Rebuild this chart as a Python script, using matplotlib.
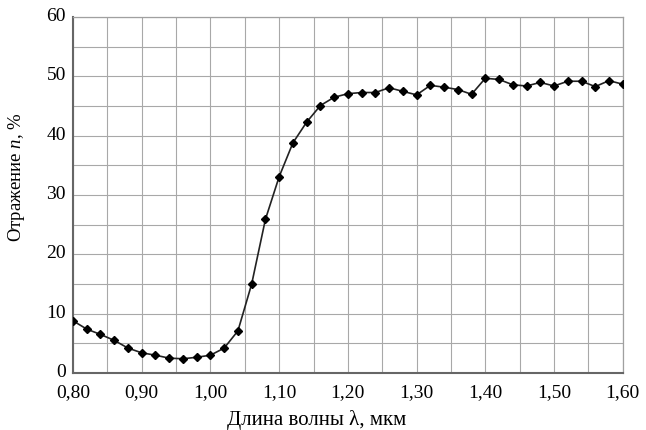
import matplotlib
matplotlib.use("Agg")
import matplotlib.pyplot as plt
import matplotlib.transforms as mtransforms
from matplotlib.ticker import MultipleLocator, FuncFormatter

wavelength = [0.80, 0.82, 0.84, 0.86, 0.88, 0.90, 0.92, 0.94, 0.96, 0.98,
              1.00, 1.02, 1.04, 1.06, 1.08, 1.10, 1.12, 1.14, 1.16, 1.18,
              1.20, 1.22, 1.24, 1.26, 1.28, 1.30, 1.32, 1.34, 1.36, 1.38,
              1.40, 1.42, 1.44, 1.46, 1.48, 1.50, 1.52, 1.54, 1.56, 1.58, 1.60]
reflection = [8.8, 7.4, 6.5, 5.5, 4.2, 3.4, 3.0, 2.5, 2.4, 2.65,
              3.0, 4.2, 7.1, 15.0, 25.9, 33.1, 38.8, 42.3, 45.1, 46.5,
              47.1, 47.3, 47.3, 48.1, 47.5, 46.9, 48.5, 48.2, 47.8, 47.0,
              49.7, 49.5, 48.6, 48.4, 49.0, 48.4, 49.2, 49.2, 48.3, 49.3, 48.7]

plt.rcParams['font.family'] = ['Liberation Serif', 'DejaVu Serif']
plt.rcParams['mathtext.fontset'] = 'custom'
plt.rcParams['mathtext.it'] = 'Liberation Serif:italic'
plt.rcParams['mathtext.rm'] = 'Liberation Serif'

fig = plt.figure(figsize=(6.46, 4.30), dpi=100)
ax = fig.add_axes([0.113, 0.1326, 0.851, 0.8274])

ax.plot(wavelength, reflection, color='#222222', lw=1.2,
        marker='D', markersize=4.5, markerfacecolor='black', markeredgecolor='black', zorder=3)

ax.set_xlim(0.80, 1.60)
ax.set_ylim(0, 60)
ax.xaxis.set_major_locator(MultipleLocator(0.10))
ax.xaxis.set_minor_locator(MultipleLocator(0.05))
ax.yaxis.set_major_locator(MultipleLocator(10))
ax.yaxis.set_minor_locator(MultipleLocator(5))
ax.xaxis.set_major_formatter(FuncFormatter(lambda v, p: f"{v:.2f}".replace('.', ',')))
ax.yaxis.set_major_formatter(FuncFormatter(lambda v, p: f"{int(round(v))}"))

ax.grid(True, which='both', color='#a8a8a8', lw=0.8)
ax.set_axisbelow(True)
for side in ['top', 'right']:
    ax.spines[side].set_color('#a0a0a0')
    ax.spines[side].set_linewidth(0.9)
for side in ['left', 'bottom']:
    ax.spines[side].set_color('#666666')
    ax.spines[side].set_linewidth(1.5)

ax.tick_params(which='both', length=0, labelsize=14, colors='black')
ax.tick_params(axis='x', pad=8)
ax.tick_params(axis='y', pad=5)

shift_up = mtransforms.ScaledTranslation(0, 2.5 / 100, fig.dpi_scale_trans)
for lbl in ax.get_yticklabels():
    lbl.set_transform(lbl.get_transform() + shift_up)

ax.set_xlabel('Длина волны λ, мкм', fontsize=15)
ax.xaxis.label.set_va('baseline')
ax.xaxis.set_label_coords(0.443, -0.146)

ax.set_ylabel('Отражение $n$, %', fontsize=13.5)
ax.yaxis.label.set_ha('center')
ax.yaxis.label.set_va('center')
ax.yaxis.set_label_coords(-0.102, 0.551)

fig.savefig('out.png', dpi=100)
